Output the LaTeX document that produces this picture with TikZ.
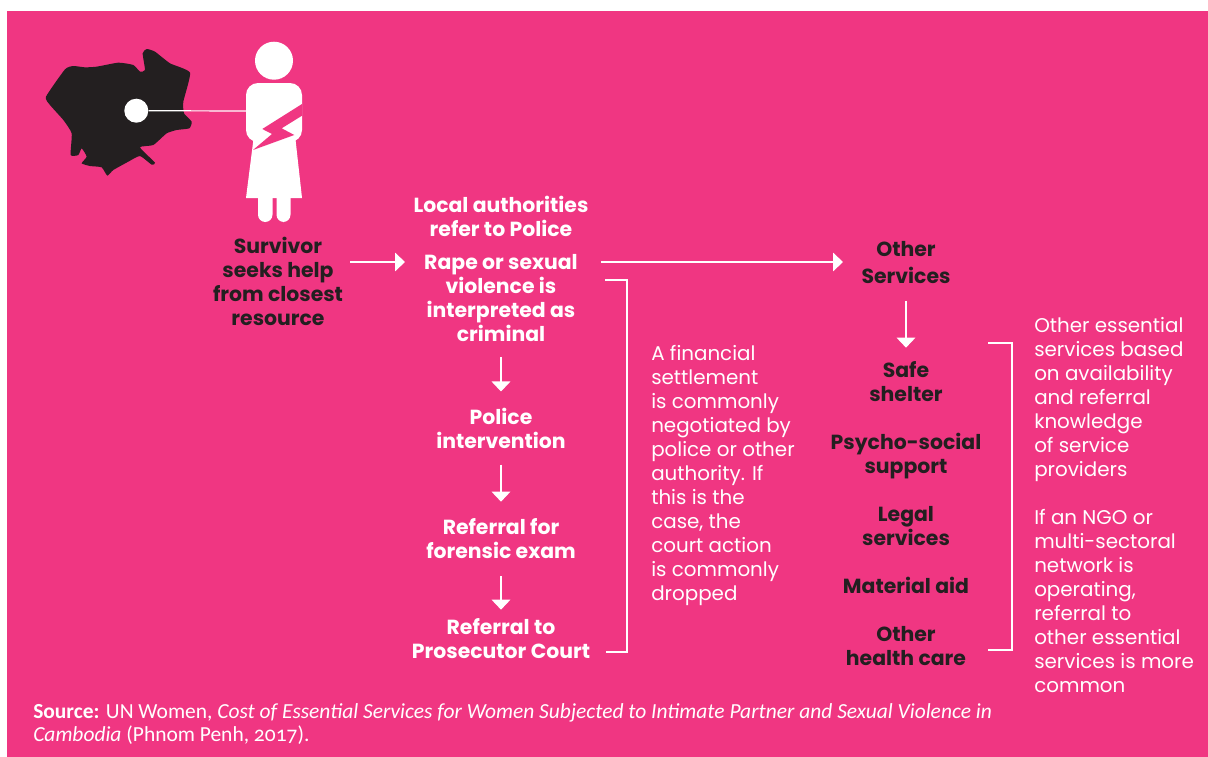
\documentclass[tikz,border=0pt]{standalone}
\usepackage{fontspec}
\setmainfont{Poppins}
\newfontfamily\sourcefont[Numbers=OldStyle]{Carlito}
\usetikzlibrary{arrows.meta}
\definecolor{bgpink}{HTML}{F03682}
\definecolor{inkdark}{HTML}{231F20}
\tikzset{
  flow/.style={draw=white, line width=0.9pt, -{Triangle[length=7.5pt,width=14pt,fill=white]}},
  plainline/.style={draw=white, line width=0.9pt},
  head/.style={font=\fontsize{15.3}{18}\selectfont\bfseries, align=center, inner sep=0pt, text=white},
  darkhead/.style={head, text=inkdark},
  para/.style={font=\fontsize{14.9}{18}\selectfont, align=left, inner sep=0pt, text=white, anchor=north west},
}
\begin{document}
\begin{tikzpicture}[x=0.75pt, y=-0.75pt]
\useasboundingbox (0,0) rectangle (1208,757);
\fill[white] (0,0) rectangle (1208,757);
\fill[bgpink] (7,11) rectangle (1208,757);

% map outline
\begin{scope}[shift={(30,30)}, x=0.25pt, y=-0.25pt]
  \fill[inkdark] plot[smooth cycle, tension=0.3] coordinates {
    (48,200) (105,118) (130,108) (165,112) (200,110) (265,98) (310,105) (330,125)
    (345,120) (338,70) (350,57) (375,65) (420,100) (480,128) (460,215) (462,250)
    (485,275) (478,295) (440,300) (410,310) (370,345) (330,352) (375,398) (365,404)
    (330,378) (295,395) (250,420) (232,437) (215,412) (180,408) (155,400) (170,380)
    (155,355) (145,375) (122,375) (125,310) (100,270) (60,225)};
\end{scope}

% figure
\node[circle, fill=white, minimum size=28.5pt, inner sep=0pt] (headdot) at (274,60.7) {};
\fill[white, rounded corners=9pt] (246,83) rectangle (302,142);
\fill[white] (254,135) -- (295,135) -- (302,198) -- (246,198) -- cycle;
\fill[white, rounded corners=5.5pt] (258,190) rectangle (272.5,222);
\fill[white, rounded corners=5.5pt] (276.5,190) rectangle (290.5,222);
\fill[bgpink] (302,104) -- (262.3,129) -- (272,134) -- (253,150) -- (294.3,135) -- (281.7,128.3) -- (302,115.7) -- cycle;
\coordinate (bodyside) at (247,111);
\node[circle, fill=white, minimum size=18pt, inner sep=0pt] (mapdot) at (136.3,110.7) {};
\draw[plainline] (mapdot) -- (bodyside);

\begin{scope}
  \node[darkhead] (survivor) at (278,281) {Survivor\\seeks help\\from closest\\resource};
  \node[head] (local) at (501,216) {Local authorities\\refer to Police};
  \node[head] (rape) at (501,298) {Rape or sexual\\violence is\\interpreted as\\criminal};
  \node[head] (police) at (501,428) {Police\\intervention};
  \node[head] (forensic) at (501,539) {Referral for\\forensic exam};
  \node[head] (court) at (501,639) {Referral to\\Prosecutor Court};

  \node[darkhead, font=\fontsize{15.3}{20.25}\selectfont\bfseries] (services) at (906,262.5) {Other\\Services};
  \node[darkhead] (shelter) at (906,382) {Safe\\shelter};
  \node[darkhead] (psycho) at (906,456) {Psycho-social\\support};
  \node[darkhead] (legal) at (906,526) {Legal\\services};
  \node[darkhead] (material) at (906,585) {Material aid};
  \node[darkhead] (health) at (906,646) {Other\\health care};

  \node[para] (settlement) at (651,345) {A financial\\settlement\\is commonly\\negotiated by\\police or other\\authority. If\\this is the\\case, the\\court action\\is commonly\\dropped};
  \node[para] (essential) at (1034,317) {Other essential\\services based\\on availability\\and referral\\knowledge\\of service\\providers\\[18pt]If an NGO or\\multi-sectoral\\network is\\operating,\\referral to\\other essential\\services is more\\common};

  \node[font=\sourcefont\fontsize{16.1}{17.25}\selectfont, align=left, inner sep=0pt, text=white, anchor=north west] (source) at (33,703)
    {\textbf{Source:} UN Women, \textit{Cost of Essential Services for Women Subjected to Intimate Partner and Sexual Violence in}\\\textit{Cambodia} (Phnom Penh, 2017).};

  \coordinate (seekout) at (350,262);
  \coordinate (rapein) at (405,262);
  \coordinate (rapeout) at (601,262);
  \coordinate (servicesin) at (843,262);
  \path[flow] (seekout) -- (rapein);
  \path[flow] (rapeout) -- (servicesin);

  \path[flow] ([yshift=-11.25pt]rape.south) -- ([yshift=12pt]police.north);
  \path[flow] ([yshift=-12pt]police.south) -- ([yshift=12.75pt]forensic.north);
  \path[flow] ([yshift=-12.75pt]forensic.south) -- ([yshift=6.75pt]court.north);
  \path[flow] ([yshift=-12.75pt]services.south) -- ([yshift=10.5pt]shelter.north);

  \coordinate (courtend) at (606,652);
  \coordinate (rapeend) at (605,280);
  \coordinate (healthend) at (988,650);
  \coordinate (shelterend) at (988,343);
  \draw[plainline] (rapeend) -- (627,280) -- (627,652) -- (courtend);
  \draw[plainline] (shelterend) -- (1012,343) -- (1012,650) -- (healthend);
\end{scope}

\end{tikzpicture}
\end{document}
